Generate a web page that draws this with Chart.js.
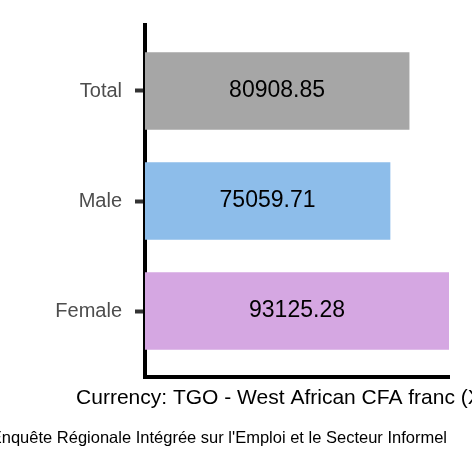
<!DOCTYPE html>
<html>
<head>
<meta charset="utf-8">
<script src="https://cdn.jsdelivr.net/npm/chart.js@4"></script>
<style>
  html, body { margin: 0; padding: 0; background: #fff; }
  #wrap { width: 472px; height: 472px; }
</style>
</head>
<body>
<div id="wrap"><canvas id="wageChart" width="472" height="472"></canvas></div>
<script>
// data
const categories = ['Total', 'Male', 'Female'];
const values = [80908.85, 75059.71, 93125.28];
const colors = ['#a6a6a6', '#8dbdea', '#d5a7e2'];

const xTitle = 'Currency: TGO - West African CFA franc (XOF)';
const caption = "Enquête Régionale Intégrée sur l'Emploi et le Secteur Informel";

const FONT = '"Liberation Sans", Arial, Helvetica, sans-serif';

// value labels in the middle of each bar + axis title + caption
const textPlugin = {
  id: 'textPlugin',
  afterDraw(chart) {
    const ctx = chart.ctx;
    const area = chart.chartArea;
    ctx.save();
    ctx.fillStyle = '#000';
    ctx.textBaseline = 'middle';
    ctx.textAlign = 'center';
    ctx.font = '23px ' + FONT;
    chart.getDatasetMeta(0).data.forEach((bar, i) => {
      ctx.fillText(values[i].toFixed(2), (bar.base + bar.x) / 2, bar.y);
    });

    ctx.textBaseline = 'alphabetic';
    ctx.font = '21px ' + FONT;
    ctx.fillText(xTitle, (area.left + area.right) / 2, 404);

    ctx.textAlign = 'right';
    ctx.font = '16.5px ' + FONT;
    ctx.fillText(caption, 447, 443);
    ctx.restore();
  }
};

const ctx = document.getElementById('wageChart').getContext('2d');
const wageChart = new Chart(ctx, {
  type: 'bar',
  data: {
    datasets: [{
      data: values.map((v, i) => ({ x: v, y: i + 1 })),
      backgroundColor: colors,
      borderWidth: 0,
      barThickness: 77
    }]
  },
  options: {
    indexAxis: 'y',
    responsive: false,
    animation: false,
    devicePixelRatio: 1,
    layout: { padding: { top: 23, right: 23, bottom: 95, left: 0 } },
    plugins: {
      legend: { display: false },
      tooltip: { enabled: false }
    },
    scales: {
      x: {
        type: 'linear',
        min: 0,
        max: Math.max(...values),
        z: 1,
        grid: { display: false },
        border: { display: true, color: '#000', width: 4 },
        ticks: { display: false },
        afterFit(scale) { scale.height = 0; }
      },
      y: {
        type: 'linear',
        min: 0.4,
        max: 3.6,
        reverse: true,
        offset: false,
        z: 1,
        afterBuildTicks(scale) {
          scale.ticks = categories.map((c, i) => ({ value: i + 1 }));
        },
        afterFit(scale) { scale.width = 145; },
        grid: {
          display: true,
          offset: false,
          drawOnChartArea: false,
          drawTicks: true,
          tickLength: 10,
          tickWidth: 4,
          tickColor: '#333333'
        },
        border: { display: true, color: '#000', width: 4 },
        ticks: {
          padding: 13,
          color: '#4d4d4d',
          font: { family: FONT, size: 20 },
          callback: (v) => categories[v - 1]
        }
      }
    }
  },
  plugins: [textPlugin]
});
</script>
</body>
</html>
